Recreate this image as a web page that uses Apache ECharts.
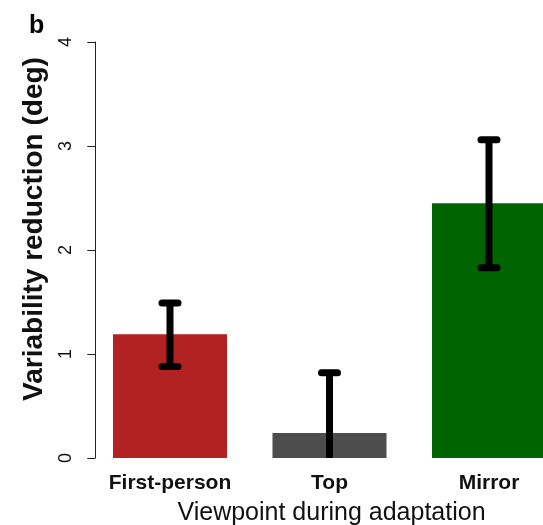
<!DOCTYPE html>
<html>
<head>
<meta charset="utf-8">
<script src="https://cdn.jsdelivr.net/npm/echarts@6/dist/echarts.min.js"></script>
<style>html,body{margin:0;padding:0;background:#fff;}#c{width:543px;height:525px;}</style>
</head>
<body>
<div id="c"></div>
<script>
var categories = ['First-person', 'Top', 'Mirror'];
var means = [1.19, 0.24, 2.45];
var lowerErr = [0.88, -0.34, 1.83];
var upperErr = [1.49, 0.82, 3.06];
var barColors = ['#B22222', '#4D4D4D', '#006400'];
var yTicks = [0, 1, 2, 3, 4];

var chart = echarts.init(document.getElementById('c'));
var font = 'Liberation Sans, Arial, sans-serif';
chart.setOption({
  animation: false,
  backgroundColor: '#ffffff',
  title: {text: 'b', left: 24, top: 9, textStyle: {fontFamily: font, fontSize: 25, fontWeight: 'bold', color: '#000'}},
  grid: {left: 90.25, top: 42, width: 478.5, bottom: 67, containLabel: false, outerBoundsMode: 'none'},
  xAxis: {
    type: 'category', data: categories,
    axisLine: {show: false}, axisTick: {show: false},
    axisLabel: {fontFamily: font, fontSize: 21, fontWeight: 'bold', color: '#111', margin: 15},
    name: 'Viewpoint during adaptation', nameLocation: 'middle', nameGap: 43,
    nameTextStyle: {fontFamily: font, fontSize: 25, color: '#111', padding: [0, 0, 0, 4]}
  },
  yAxis: {
    type: 'value', min: yTicks[0], max: yTicks[yTicks.length - 1], interval: 1, offset: -5,
    splitLine: {show: false},
    axisLine: {show: true, lineStyle: {color: '#222', width: 1}},
    axisTick: {show: true, length: 8, lineStyle: {color: '#222'}},
    axisLabel: {rotate: 90, fontFamily: font, fontSize: 18, color: '#111', margin: 20},
    name: 'Variability reduction (deg)', nameLocation: 'middle', nameGap: 47, nameRotate: 90,
    nameTextStyle: {fontFamily: font, fontSize: 28, fontWeight: 'bold', color: '#111', padding: [0, 0, 0, 42]}
  },
  series: [
    {
      type: 'bar', barCategoryGap: '28.5%',
      data: means.map(function (v, i) { return {value: v, itemStyle: {color: barColors[i]}}; })
    },
    {
      type: 'custom', clip: true, z: 10,
      data: categories.map(function (c, i) { return [i, lowerErr[i], upperErr[i]]; }),
      renderItem: function (params, api) {
        var lo = api.coord([api.value(0), api.value(1)]);
        var hi = api.coord([api.value(0), api.value(2)]);
        var hw = 8;
        var st = {stroke: '#000', lineWidth: 7, lineCap: 'round'};
        return {type: 'group', children: [
          {type: 'line', shape: {x1: lo[0], y1: lo[1], x2: hi[0], y2: hi[1]}, style: {stroke: '#000', lineWidth: 7}},
          {type: 'line', shape: {x1: hi[0] - hw, y1: hi[1], x2: hi[0] + hw, y2: hi[1]}, style: st},
          {type: 'line', shape: {x1: lo[0] - hw, y1: lo[1], x2: lo[0] + hw, y2: lo[1]}, style: st}
        ]};
      }
    }
  ]
});
</script>
</body>
</html>
